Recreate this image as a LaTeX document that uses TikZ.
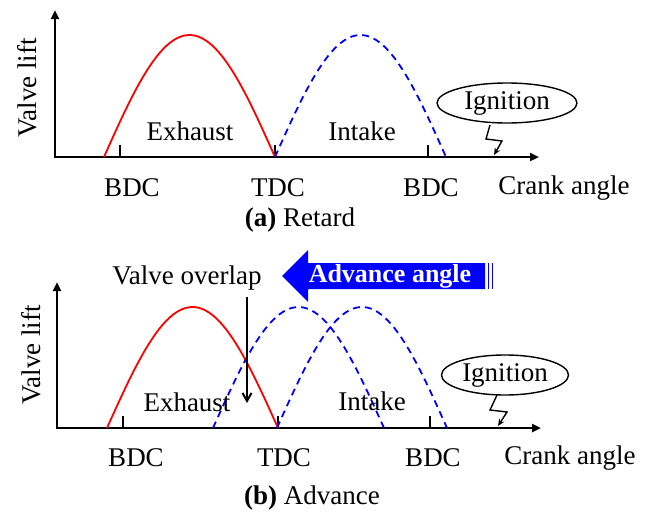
\documentclass[tikz,border=0pt]{standalone}
\usepackage{fontspec}
\setmainfont{Liberation Serif}
\usetikzlibrary{arrows.meta,shapes.geometric}
\begin{document}
\begin{tikzpicture}[x=1pt,y=-1pt,
  lbl/.style={inner sep=0pt,font=\fontsize{27}{32}\selectfont},
  axis/.style={line width=2.4pt,-{Triangle[length=9pt,width=8pt]}},
  tick/.style={line width=2pt},
  exh/.style={red,line width=1.8pt},
  intk/.style={blue,line width=1.8pt,dash pattern=on 7pt off 5pt},
  ign/.style={draw,ellipse,line width=1.4pt,minimum width=140pt,minimum height=40pt,inner sep=0pt,font=\fontsize{27}{32}\selectfont},
  zig/.style={line width=1.4pt,-{Stealth[length=7pt,width=6pt]}}]
\useasboundingbox (0,0) rectangle (648,514);
% ---------- (a) Retard ----------
\coordinate (o1) at (55,157);
\coordinate (y1) at (55,10);
\coordinate (x1) at (539,157);
\draw[axis] (o1) -- (y1);
\draw[axis] ([xshift=-1.2pt]o1) -- (x1);
\coordinate (t1a) at (120,157); \coordinate (t1at) at (120,145);
\coordinate (t1b) at (275,157); \coordinate (t1bt) at (275,145);
\coordinate (t1c) at (428,157); \coordinate (t1ct) at (428,145);
\draw[tick] (t1a) -- (t1at);
\draw[tick] (t1b) -- (t1bt);
\draw[tick] (t1c) -- (t1ct);
\draw[exh] plot[domain=0:1,samples=50] ({104+171*\x},{157-122*sin(180*\x)});
\draw[intk] plot[domain=0:1,samples=50] ({275+171*\x},{157-122*sin(180*\x)});
\node[lbl] (exa) at (190,131) {Exhaust};
\node[lbl] (ina) at (362,131) {Intake};
\node[lbl] (b1) at (132,188) {BDC};
\node[lbl] (td1) at (278,188) {TDC};
\node[lbl] (b2) at (431,188) {BDC};
\node[lbl] (ca1) at (564,188) {Crank angle};
\node[lbl,rotate=90] (vl1) at (27,88) {Valve lift};
\node[lbl] (capa) at (300,220) {\textbf{(a)} Retard};
\node[ign] (ig1) at (507,103) {Ignition};
\coordinate (z1a) at (490,125);
\coordinate (z1b) at (486,139);
\coordinate (z1c) at (502,141);
\coordinate (z1d) at (494,155);
\draw[zig] (z1a) -- (z1b) -- (z1c) -- (z1d);
% ---------- (b) Advance ----------
\coordinate (o2) at (57,428);
\coordinate (y2) at (57,282);
\coordinate (x2) at (541,428);
\draw[axis] (o2) -- (y2);
\draw[axis] ([xshift=-1.2pt]o2) -- (x2);
\coordinate (t2a) at (123,428); \coordinate (t2at) at (123,416);
\coordinate (t2b) at (278,428); \coordinate (t2bt) at (278,416);
\coordinate (t2c) at (430,428); \coordinate (t2ct) at (430,416);
\draw[tick] (t2a) -- (t2at);
\draw[tick] (t2b) -- (t2bt);
\draw[tick] (t2c) -- (t2ct);
\draw[exh] plot[domain=0:1,samples=50] ({107+171*\x},{428-121*sin(180*\x)});
\draw[intk] plot[domain=0:1,samples=50] ({213+171*\x},{428-121*sin(180*\x)});
\draw[intk] plot[domain=0:1,samples=50] ({277+170*\x},{428-121*sin(180*\x)});
\node[lbl] (exb) at (187,402) {Exhaust};
\node[lbl] (inb) at (372,401) {Intake};
\node[lbl] (b3) at (136,458) {BDC};
\node[lbl] (td2) at (284,458) {TDC};
\node[lbl] (b4) at (433,458) {BDC};
\node[lbl] (ca2) at (570,458) {Crank angle};
\node[lbl,rotate=90] (vl2) at (31,355) {Valve lift};
\node[lbl] (capb) at (312,498) {\textbf{(b)} Advance};
\node[ign,minimum width=127pt] (ig2) at (505,375) {Ignition};
\coordinate (z2a) at (497,395);
\coordinate (z2b) at (490,410);
\coordinate (z2c) at (507,412);
\coordinate (z2d) at (498,426);
\draw[zig] (z2a) -- (z2b) -- (z2c) -- (z2d);
% valve overlap
\node[lbl] (vo) at (187,278) {Valve overlap};
\coordinate (voa) at (247,297);
\coordinate (vob) at (247,403);
\draw[line width=2pt,-{Straight Barb[length=8pt,width=9pt]}] (voa) -- (vob);
% advance angle arrow
\fill[blue] (282,276) -- (308,250) -- (308,263) -- (485,263) -- (485,289) -- (308,289) -- (308,302) -- cycle;
\draw[blue,line width=1.2pt] (488.5,263) -- (488.5,289);
\draw[blue,line width=1.2pt] (492.5,263) -- (492.5,289);
\node[inner sep=0pt,text=white,font=\fontsize{26}{30}\selectfont\bfseries] (adv) at (390,276) {Advance angle};
\end{tikzpicture}
\end{document}
